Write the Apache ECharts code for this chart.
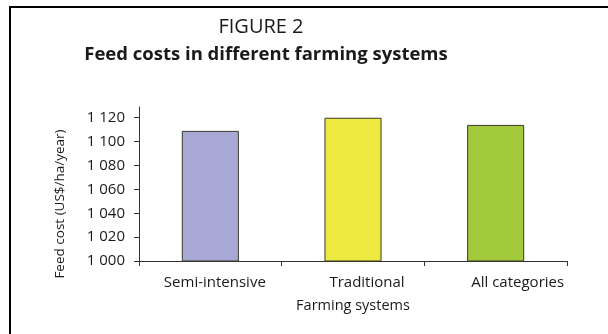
<!DOCTYPE html>
<html><head><meta charset="utf-8">
<script src="https://cdn.jsdelivr.net/npm/echarts@6/dist/echarts.min.js"></script>
<style>html,body{margin:0;padding:0;background:#fff;overflow:hidden}#c{width:608px;height:334px}</style>
</head><body><div id="c"></div>
<script>
const categories = ['Semi-intensive', 'Traditional', 'All categories'];
const values = [1109, 1120, 1114];
const barColors = ['#A7A8D6', '#EEE940', '#A3C93C'];
const tickValues = [1000, 1020, 1040, 1060, 1080, 1100, 1120];
const labelShift = [9, 28, 44];
const FONT = 'Open Sans';

const chart = echarts.init(document.getElementById('c'), null, {renderer: 'canvas'});
chart.setOption({
  animation: false,
  grid: {left: 139, right: 41, top: 107, bottom: 73},
  xAxis: {
    type: 'category',
    data: categories.map((c, i) => ({value: c, textStyle: {padding: [0, 0, 0, labelShift[i]]}})),
    axisLine: {lineStyle: {color: '#333', width: 1}},
    axisTick: {show: true, length: 5, inside: false, lineStyle: {color: '#333'}},
    axisLabel: {color: '#1a1a1a', fontFamily: FONT, fontSize: 15, margin: 14},
    name: 'Farming systems',
    nameLocation: 'middle',
    nameGap: 37,
    nameTextStyle: {color: '#1a1a1a', fontFamily: FONT, fontSize: 14.5}
  },
  yAxis: {
    type: 'value',
    min: 1000,
    max: 1129,
    interval: 20,
    splitLine: {show: false},
    axisLine: {show: true, lineStyle: {color: '#333', width: 1}},
    axisTick: {show: true, length: 5, lineStyle: {color: '#333'}, customValues: tickValues},
    axisLabel: {
      color: '#1a1a1a', fontFamily: FONT, fontSize: 15, margin: 14,
      customValues: tickValues,
      formatter: v => String(v).replace(/\B(?=(\d{3})+(?!\d))/g, ' ')
    }
  },
  series: [{
    type: 'bar',
    barWidth: '40%',
    data: values.map((v, i) => ({value: v, itemStyle: {color: barColors[i]}})),
    itemStyle: {borderColor: '#3a3a2a', borderWidth: 1}
  }],
  graphic: [
    {type: 'polyline', shape: {points: [[10, 400], [10, 7], [700, 7]]}, style: {fill: null, stroke: '#000', lineWidth: 2}, z: 0},
    {type: 'text', x: 261, y: 27, style: {text: 'FIGURE 2', font: '20px "Open Sans"', fill: '#1a1a1a', textAlign: 'center', textVerticalAlign: 'middle'}},
    {type: 'text', x: 266, y: 55, style: {text: 'Feed costs in different farming systems', font: 'bold 18.5px "Open Sans"', fill: '#1a1a1a', textAlign: 'center', textVerticalAlign: 'middle'}},
    {type: 'text', x: 60, y: 204, rotation: Math.PI / 2, style: {text: 'Feed cost (US$/ha/year)', font: '13.5px "Open Sans"', fill: '#1a1a1a', textAlign: 'center', textVerticalAlign: 'middle'}}
  ]
});
</script></body></html>
